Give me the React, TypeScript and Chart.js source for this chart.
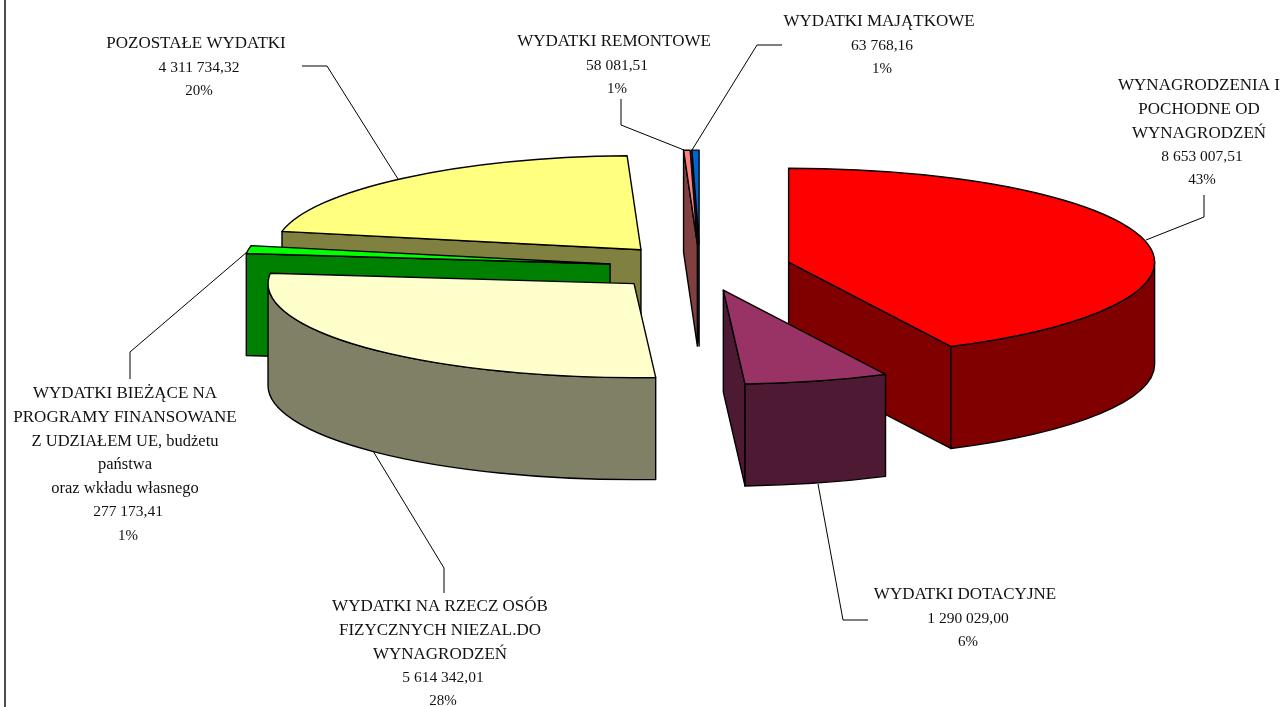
import React, { useEffect, useRef } from "react";
import { Chart, registerables } from "chart.js";

Chart.register(...registerables);

const categories: string[][] = [
  ["WYNAGRODZENIA I", "POCHODNE OD", "WYNAGRODZEŃ"],
  ["WYDATKI DOTACYJNE"],
  ["WYDATKI NA RZECZ OSÓB", "FIZYCZNYCH NIEZAL.DO", "WYNAGRODZEŃ"],
  ["WYDATKI BIEŻĄCE NA", "PROGRAMY FINANSOWANE", "Z UDZIAŁEM UE, budżetu", "państwa", "oraz wkładu własnego"],
  ["POZOSTAŁE WYDATKI"],
  ["WYDATKI REMONTOWE"],
  ["WYDATKI MAJĄTKOWE"],
];
const values = [8653007.51, 1290029.0, 5614342.01, 277173.41, 4311734.32, 58081.51, 63768.16];
const percents = ["43%", "6%", "28%", "1%", "20%", "1%", "1%"];

const topColors = ["#FF0000", "#993366", "#FFFFCC", "#00FF00", "#FFFF80", "#FF8080", "#0066CC"];
const sideColors = ["#800000", "#4D1933", "#808066", "#008000", "#808040", "#804040", "#003366"];

// layout only
const RADIUS = 366;
const EXPLODE = 91;
const TILT = 94 / 366;
const DEPTH = 102;
const paintOrder = [4, 3, 2, 6, 5, 0, 1];
const labelCenters: [number, number][] = [
  [1199, 86], [965, 595], [440, 607], [125, 394], [196, 44], [614, 42], [879, 22],
];
const leaders: [number, number][][] = [
  [[1204, 195], [1204, 217], [1146, 240]],
  [[818, 484], [843, 620], [868, 620]],
  [[373, 451], [444, 568], [444, 593]],
  [[247, 252], [130, 352], [130, 379]],
  [[302, 66], [327, 66], [398, 179]],
  [[621, 99], [621, 125], [684, 150]],
  [[782, 45], [757, 45], [692, 150]],
];
const LINE_H = 23.6;
const FAMILY = '"Liberation Serif", serif';

const formatValue = (v: number) => {
  const [i, d] = v.toFixed(2).split(".");
  return i.replace(/\B(?=(\d{3})+$)/g, " ") + "," + d;
};

const pie3d = {
  id: "pie3d",
  beforeDatasetsDraw(chart: any) {
    const ctx: CanvasRenderingContext2D = chart.ctx;
    const arcs = chart.getDatasetMeta(0).data;
    ctx.save();
    ctx.lineWidth = 1.4;
    ctx.strokeStyle = "#000";
    ctx.lineJoin = "round";

    // frame line at the left
    ctx.beginPath();
    ctx.moveTo(5, 0);
    ctx.lineTo(5, 707);
    ctx.stroke();

    const shape = (fill: string, build: () => void) => {
      ctx.beginPath();
      build();
      ctx.closePath();
      ctx.fillStyle = fill;
      ctx.fill();
      ctx.stroke();
    };

    for (const i of paintOrder) {
      const arc = arcs[i];
      const { x, y, startAngle: a0, endAngle: a1, outerRadius: R } = arc;
      const off = arc.options.offset;
      const mid = (a0 + a1) / 2;
      const ax = x + off * Math.cos(mid);
      const ay = y + off * Math.sin(mid) * TILT;
      const px = (a: number) => ax + R * Math.cos(a);
      const py = (a: number) => ay + R * TILT * Math.sin(a);
      const wall = (a: number) =>
        shape(sideColors[i], () => {
          ctx.moveTo(ax, ay);
          ctx.lineTo(px(a), py(a));
          ctx.lineTo(px(a), py(a) + DEPTH);
          ctx.lineTo(ax, ay + DEPTH);
        });
      // cut faces are painted only when they face the viewer
      if (Math.cos(a0) < -1e-6) wall(a0);
      if (Math.cos(a1) > 1e-6) wall(a1);
      // the outer wall only shows on the front half
      const f0 = Math.max(a0, 0);
      const f1 = Math.min(a1, Math.PI);
      if (f1 > f0) {
        shape(sideColors[i], () => {
          ctx.ellipse(ax, ay, R, R * TILT, 0, f0, f1);
          ctx.lineTo(px(f1), py(f1) + DEPTH);
          ctx.ellipse(ax, ay + DEPTH, R, R * TILT, 0, f1, f0, true);
        });
      }
      shape(topColors[i], () => {
        ctx.moveTo(ax, ay);
        ctx.ellipse(ax, ay, R, R * TILT, 0, a0, a1);
      });
    }

    // leader lines
    ctx.lineWidth = 1;
    leaders.forEach((pts) => {
      ctx.beginPath();
      pts.forEach(([lx, ly], k) => (k ? ctx.lineTo(lx, ly) : ctx.moveTo(lx, ly)));
      ctx.stroke();
    });

    // labels
    ctx.fillStyle = "#111";
    ctx.textAlign = "center";
    ctx.textBaseline = "middle";
    categories.forEach((name, i) => {
      const [cx, cy] = labelCenters[i];
      name.forEach((t, k) => {
        ctx.font = `${/[a-z]/.test(t) ? 16.5 : 17}px ${FAMILY}`;
        ctx.fillText(t, cx, cy + k * LINE_H);
      });
      ctx.font = `15.5px ${FAMILY}`;
      ctx.fillText(formatValue(values[i]), cx + 3, cy + name.length * LINE_H);
      ctx.font = `15px ${FAMILY}`;
      ctx.fillText(percents[i], cx + 3, cy + (name.length + 1) * LINE_H);
    });
    ctx.restore();
    return false;
  },
};

export default function App() {
  const ref = useRef<HTMLCanvasElement>(null);
  useEffect(() => {
    document.body.style.background = "#fff";
    const chart = new Chart(ref.current!, {
      type: "pie",
      data: {
        labels: categories.map((c) => c.join(" ")),
        datasets: [{ data: values, backgroundColor: topColors, offset: EXPLODE, radius: RADIUS } as any],
      },
      options: {
        animation: false,
        responsive: false,
        devicePixelRatio: 1,
        radius: RADIUS,
        layout: { padding: { left: 115, right: 0, top: 0, bottom: 172 } },
        plugins: { legend: { display: false }, tooltip: { enabled: false } },
      } as any,
      plugins: [pie3d],
    });
    return () => chart.destroy();
  }, []);
  return (
    <canvas
      ref={ref}
      width={1285}
      height={707}
      style={{ position: "fixed", left: 0, top: 0, width: 1285, height: 707, display: "block" }}
    />
  );
}
